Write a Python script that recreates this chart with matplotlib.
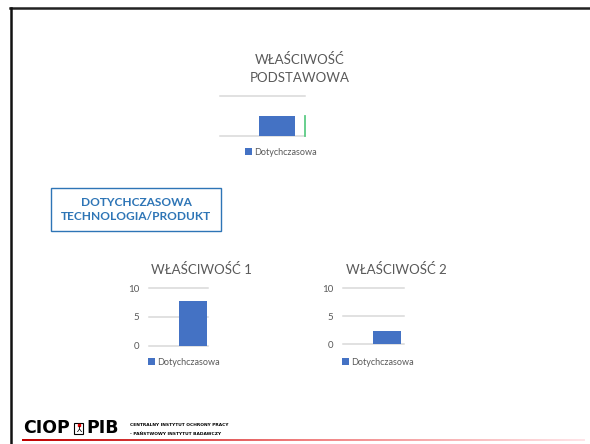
import numpy as np
import matplotlib.pyplot as plt
from matplotlib.patches import Rectangle
from matplotlib.lines import Line2D
from matplotlib.colors import LinearSegmentedColormap

# data
titles = ['WŁAŚCIWOŚĆ\nPODSTAWOWA', 'WŁAŚCIWOŚĆ 1', 'WŁAŚCIWOŚĆ 2']
series_name = 'Dotychczasowa'
values_main = [5]
values_1 = [7.8]
values_2 = [2.4]
yticks_small = [0, 5, 10]

bar_color = '#4472C4'
grid_color = '#D9D9D9'
text_gray = '#595959'
blue_txt = '#2E75B6'

plt.rcParams['font.family'] = ['Lato', 'DejaVu Sans']

W, H = 590, 444
fig = plt.figure(figsize=(5.9, 4.44), dpi=100)


def fx(px):
    return px / W


def fy(py):
    return 1 - py / H


def make_axes(x0, x1, y0, y1):
    return fig.add_axes([fx(x0), fy(y1), fx(x1 - x0), (y1 - y0) / H])


def style(ax, ticks, show_labels):
    for s in ax.spines.values():
        s.set_visible(False)
    ax.set_ylim(0, 10)
    ax.set_yticks(ticks)
    ax.yaxis.grid(True, color=grid_color, linewidth=1.1)
    for gl in ax.get_ygridlines():
        gl.set_clip_on(False)
    ax.set_axisbelow(True)
    ax.tick_params(axis='y', length=0, pad=7, labelsize=7, labelcolor=text_gray)
    if not show_labels:
        ax.set_yticklabels([])
    ax.set_xticks([])


def legend(ax, bars, x, y):
    ax.legend([bars], [series_name], loc='center left',
              bbox_to_anchor=(fx(x), fy(y)), bbox_transform=fig.transFigure,
              frameon=False, fontsize=6.5, labelcolor=text_gray,
              handlelength=0.75, handleheight=0.75, handletextpad=0.25,
              borderpad=0, borderaxespad=0)


# top chart
ax0 = make_axes(220, 305, 96, 135.7)
b0 = ax0.bar([0], values_main, width=0.8, color=bar_color)
style(ax0, [0, 10], False)
ax0.set_xlim(-1.268, 0.623)
ax0.spines['right'].set_visible(True)
ax0.spines['right'].set_edgecolor('#5CCB85')
ax0.spines['right'].set_linewidth(1.3)
ax0.spines['right'].set_bounds(0, values_main[0])
legend(ax0, b0, 245, 152)
fig.text(fx(300), fy(68), titles[0], ha='center', va='center',
         fontsize=9.5, color=text_gray, linespacing=1.6)

# chart 1
ax1 = make_axes(149, 207.7, 288, 345.7)
b1 = ax1.bar([0], values_1, width=0.8, color=bar_color)
style(ax1, yticks_small, True)
ax1.set_xlim(-1.248, 0.412)
legend(ax1, b1, 148, 362)
fig.text(fx(201.5), fy(270), titles[1], ha='center', va='center',
         fontsize=9.5, color=text_gray)

# chart 2
ax2 = make_axes(343.3, 404, 288.3, 344.3)
b2 = ax2.bar([0], values_2, width=0.8, color=bar_color)
style(ax2, yticks_small, True)
ax2.set_xlim(-1.229, 0.484)
legend(ax2, b2, 342, 362)
fig.text(fx(396), fy(269), titles[2], ha='center', va='center',
         fontsize=9.5, color=text_gray)

# blue box
fig.text(fx(136), fy(209.5), 'DOTYCHCZASOWA\nTECHNOLOGIA/PRODUKT', ha='center',
         va='center', fontsize=8.6, fontweight='bold', color=blue_txt,
         linespacing=1.3)
fig.add_artist(Rectangle((fx(51), fy(231)), fx(170), 43 / H, transform=fig.transFigure,
                         fill=False, edgecolor=blue_txt, linewidth=1))

# slide frame
fig.add_artist(Line2D([fx(10), 1], [fy(8), fy(8)], color='#222222', linewidth=1.8))
fig.add_artist(Line2D([fx(11), fx(11)], [fy(8), 0], color='#111111', linewidth=1.8))

# logo
fig.text(fx(23), fy(428), 'CIOP', ha='left', va='center', fontsize=12.5,
         fontweight='heavy', family='DejaVu Sans', color='black')
fig.add_artist(Rectangle((fx(74), fy(433.5)), fx(9), 11 / H, transform=fig.transFigure,
                         fill=False, edgecolor='black', linewidth=0.8))
fig.text(fx(78.5), fy(429), '⅄', ha='center', va='center', fontsize=6,
         family='DejaVu Sans', color='black')
fig.add_artist(Rectangle((fx(77.5), fy(425.5)), fx(2), 2 / H, transform=fig.transFigure,
                         color='#E00000'))
fig.text(fx(86), fy(428), 'PIB', ha='left', va='center', fontsize=12.5,
         fontweight='heavy', family='DejaVu Sans', color='black')
fig.text(fx(130), fy(425), 'CENTRALNY INSTYTUT OCHRONY PRACY', ha='left', va='center',
         fontsize=3.2, fontweight='bold', family='DejaVu Sans', color='black')
fig.text(fx(130), fy(433.5), '- PAŃSTWOWY INSTYTUT BADAWCZY', ha='left', va='center',
         fontsize=3.2, fontweight='bold', family='DejaVu Sans', color='black')

# red gradient line
axl = fig.add_axes([fx(22), fy(441), fx(563), 2 / H])
grad = np.linspace(0, 1, 256).reshape(1, -1)
cm = LinearSegmentedColormap.from_list('rp', ['#C00000', '#F08080', '#FFE4E8'])
axl.imshow(grad, aspect='auto', cmap=cm)
axl.axis('off')

fig.savefig('out.png', dpi=100, facecolor='white')
